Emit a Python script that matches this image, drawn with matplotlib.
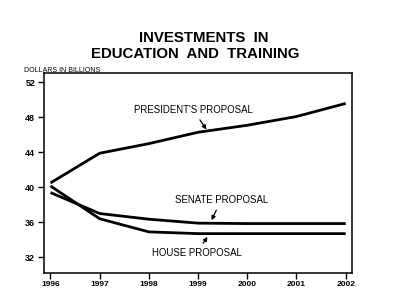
import matplotlib.pyplot as plt

years = [1996, 1997, 1998, 1999, 2000, 2001, 2002]
president = [40.5, 43.9, 45.0, 46.3, 47.1, 48.1, 49.6]
senate = [39.4, 37.0, 36.35, 35.9, 35.85, 35.85, 35.85]
house = [40.15, 36.4, 34.9, 34.7, 34.7, 34.7, 34.7]
y_ticks = [32, 36, 40, 44, 48, 52]

plt.rcParams['font.family'] = ['Liberation Sans', 'DejaVu Sans']

fig = plt.figure(figsize=(4.0, 3.06), dpi=100)
ax = fig.add_axes([0.109, 0.108, 0.77, 0.654])

for vals in (president, senate, house):
    ax.plot(years, vals, color='black', lw=2.0, solid_capstyle='butt')

ax.set_xlim(1995.86, 2002.12)
ax.set_ylim(30.2, 53.1)
ax.set_xticks(years)
ax.set_xticklabels([str(y) for y in years], fontsize=6, fontweight='bold')
ax.set_yticks(y_ticks)
ax.set_yticklabels([str(v) for v in y_ticks], fontsize=6.5, fontweight='bold')
ax.tick_params(length=4, width=1, pad=2)
for s in ax.spines.values():
    s.set_linewidth(1.1)

arrow = dict(arrowstyle='-|>', color='black', lw=0.9, mutation_scale=6)
ax.annotate("PRESIDENT'S PROPOSAL", xy=(1999.2, 46.35), xytext=(1998.9, 48.3),
            ha='center', va='bottom', fontsize=6.9, arrowprops=arrow)
ax.annotate("SENATE PROPOSAL", xy=(1999.25, 35.95), xytext=(1999.47, 38.0),
            ha='center', va='bottom', fontsize=6.9, arrowprops=arrow)
ax.annotate("HOUSE PROPOSAL", xy=(1999.22, 34.6), xytext=(1998.97, 33.0),
            ha='center', va='top', fontsize=6.9, arrowprops=arrow)

fig.text(0.06, 0.757, 'DOLLARS IN BILLIONS', fontsize=5, ha='left', va='bottom')
fig.text(0.509, 0.876, 'INVESTMENTS  IN', fontsize=10.8,
         fontweight='bold', ha='center', va='center')
fig.text(0.489, 0.824, 'EDUCATION  AND  TRAINING', fontsize=10.8,
         fontweight='bold', ha='center', va='center')

fig.savefig('out.png', dpi=100)
